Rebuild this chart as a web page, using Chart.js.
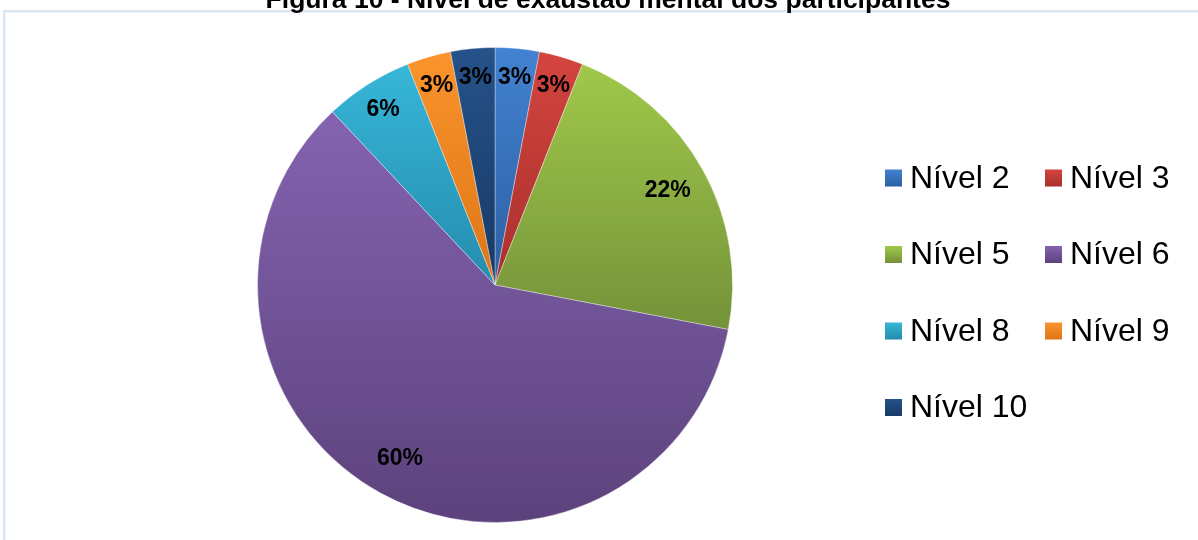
<!DOCTYPE html>
<html lang="pt">
<head>
<meta charset="utf-8">
<title>Nível de exaustão mental dos participantes</title>
<script src="https://cdn.jsdelivr.net/npm/chart.js@4"></script>
<style>
    html, body { margin: 0; padding: 0; background: #ffffff; }
    #wrap { position: relative; width: 1198px; height: 540px; }
</style>
</head>
<body>
<div id="wrap"><canvas id="exaustaoChart" width="1198" height="540"></canvas></div>
<script>
// ==================== DADOS ====================
const titulo = 'Figura 10 - Nível de exaustão mental dos participantes';
const niveis = ['Nível 2', 'Nível 3', 'Nível 5', 'Nível 6', 'Nível 8', 'Nível 9', 'Nível 10'];
const percentuais = [3, 3, 22, 60, 6, 3, 3];

// cor clara (topo) e escura (base) de cada fatia
const coresClaras = ['#4282d0', '#d4443f', '#a0c84a', '#8463b0', '#37b6d8', '#fa942c', '#26528a'];
const coresEscuras = ['#2d5fa2', '#a8302c', '#74923a', '#5c427c', '#248cad', '#dd7516', '#183a66'];

const FONTE = "'Liberation Sans', Arial, sans-serif";

// ==================== UTILIDADES ====================

// faixa vertical ocupada por uma fatia (ângulos medidos a partir do topo, sentido horário)
function faixaVertical(cy, r, a0, a1) {
    const ys = [cy, cy - r * Math.cos(a0), cy - r * Math.cos(a1)];
    const volta = Math.PI * 2;
    if (a0 <= 0 && a1 >= 0) ys.push(cy - r);
    if (a0 <= Math.PI && a1 >= Math.PI) ys.push(cy + r);
    if (a0 <= volta && a1 >= volta) ys.push(cy - r);
    return [Math.min(...ys), Math.max(...ys)];
}

function corFatia(context) {
    const chart = context.chart;
    const i = context.dataIndex;
    const area = chart.chartArea;
    if (!area) return coresClaras[i];

    const cx = (area.left + area.right) / 2;
    const cy = (area.top + area.bottom) / 2;
    const r = Math.min(area.width, area.height) / 2;
    const total = percentuais.reduce((a, b) => a + b, 0);
    const antes = percentuais.slice(0, i).reduce((a, b) => a + b, 0);
    const a0 = antes / total * Math.PI * 2;
    const a1 = (antes + percentuais[i]) / total * Math.PI * 2;

    const [y0, y1] = faixaVertical(cy, r, a0, a1);
    const grad = chart.ctx.createLinearGradient(cx, y0, cx, y1 + 1);
    grad.addColorStop(0, coresClaras[i]);
    grad.addColorStop(1, coresEscuras[i]);
    return grad;
}

// ==================== PLUGINS ====================

// moldura clara e título cortado no topo
const molduraPlugin = {
    id: 'moldura',
    beforeDraw(chart) {
        const ctx = chart.ctx;
        ctx.save();
        ctx.fillStyle = '#ffffff';
        ctx.fillRect(0, 0, chart.width, chart.height);
        ctx.fillStyle = '#dce6f3';
        ctx.fillRect(3, 10, chart.width, 2);
        ctx.fillRect(3, 10, 2, chart.height);
        ctx.fillStyle = '#eef3fa';
        ctx.fillRect(5, 12, chart.width, 1);
        ctx.fillRect(5, 12, 1, chart.height);

        ctx.fillStyle = '#000000';
        ctx.font = 'bold 26.5px ' + FONTE;
        ctx.textAlign = 'center';
        ctx.textBaseline = 'alphabetic';
        ctx.fillText(titulo, 608, 8);
        ctx.restore();
    }
};

// rótulos de porcentagem dentro das fatias
const rotulosPlugin = {
    id: 'rotulos',
    afterDatasetsDraw(chart) {
        const ctx = chart.ctx;
        const meta = chart.getDatasetMeta(0);
        ctx.save();
        ctx.fillStyle = '#000000';
        ctx.font = 'bold 23px ' + FONTE;
        ctx.textAlign = 'center';
        ctx.textBaseline = 'middle';
        meta.data.forEach((arc, i) => {
            const p = arc.getProps(['x', 'y', 'startAngle', 'endAngle', 'outerRadius'], true);
            const meio = (p.startAngle + p.endAngle) / 2;
            const fator = percentuais[i] < 10 ? 0.88 : 0.83;
            const x = p.x + Math.cos(meio) * p.outerRadius * fator;
            const y = p.y + Math.sin(meio) * p.outerRadius * fator;
            ctx.fillText(percentuais[i] + '%', x, y + 1);
        });
        ctx.restore();
    }
};

// legenda em duas colunas à direita
const legendaPlugin = {
    id: 'legendaColunas',
    afterDraw(chart) {
        const ctx = chart.ctx;
        const colX = [885, 1045];
        const linhaY0 = 178;
        const passo = 76.5;
        const lado = 17;
        ctx.save();
        ctx.font = '32px ' + FONTE;
        ctx.textBaseline = 'middle';
        ctx.textAlign = 'left';
        niveis.forEach((nome, i) => {
            const x = colX[i % 2];
            const y = linhaY0 + Math.floor(i / 2) * passo;
            const grad = ctx.createLinearGradient(0, y - lado / 2, 0, y + lado / 2);
            grad.addColorStop(0, coresClaras[i]);
            grad.addColorStop(1, coresEscuras[i]);
            ctx.fillStyle = grad;
            ctx.fillRect(x, y - lado / 2, lado, lado);
            ctx.fillStyle = '#000000';
            ctx.fillText(nome, x + 25, y + 1);
        });
        ctx.restore();
    }
};

// ==================== GRÁFICO ====================

const ctx = document.getElementById('exaustaoChart').getContext('2d');
const exaustaoChart = new Chart(ctx, {
    type: 'pie',
    data: {
        labels: niveis,
        datasets: [{
            data: percentuais,
            backgroundColor: corFatia,
            borderColor: 'rgba(255, 255, 255, 0.35)',
            borderWidth: 1
        }]
    },
    options: {
        responsive: false,
        animation: false,
        layout: {
            padding: { left: 257, right: 465, top: 47, bottom: 17 }
        },
        plugins: {
            legend: { display: false },
            tooltip: { enabled: false },
            title: { display: false }
        }
    },
    plugins: [molduraPlugin, rotulosPlugin, legendaPlugin]
});
</script>
</body>
</html>
